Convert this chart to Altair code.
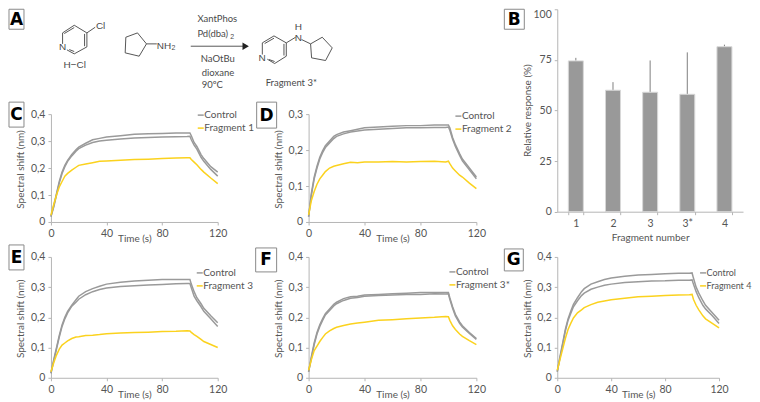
import altair as alt
import pandas as pd

FONT = "Lato"
TXT = "#555555"
AX = "#b5b5b5"
GREY = "#9a9a9a"
YEL = "#fbd21e"

times = [0, 2, 4, 6, 8, 10, 12, 15, 18, 20, 25, 30, 35, 40, 50, 60, 70, 80, 90, 98, 100, 101, 103, 105, 108, 110, 115, 120]

c_up = [.02, .06, .105, .15, .185, .21, .228, .25, .268, .278, .292, .305, .31, .315, .32, .325, .327, .328, .33, .33, .33, .32, .295, .28, .25, .235, .205, .185]
c_lo = [.02, .055, .10, .145, .18, .205, .225, .245, .262, .272, .285, .295, .30, .303, .308, .311, .313, .315, .316, .317, .318, .305, .285, .27, .24, .225, .195, .17]
c_fr = [.025, .065, .10, .13, .15, .17, .18, .192, .203, .21, .215, .22, .225, .226, .229, .232, .233, .235, .237, .238, .238, .232, .222, .212, .195, .185, .163, .142]

d_up = [.015, .08, .125, .155, .18, .198, .212, .225, .238, .243, .25, .254, .258, .262, .264, .266, .268, .268, .27, .27, .27, .262, .235, .215, .19, .175, .15, .125]
d_lo = [.015, .075, .12, .15, .175, .193, .207, .22, .232, .238, .245, .25, .253, .256, .258, .26, .262, .262, .263, .263, .264, .255, .23, .21, .185, .17, .145, .12]
d_fr = [.02, .06, .085, .105, .12, .13, .14, .15, .155, .157, .162, .166, .165, .167, .167, .168, .167, .168, .169, .167, .169, .162, .15, .142, .13, .125, .108, .093]

e_up = [.015, .06, .10, .14, .175, .20, .22, .24, .258, .27, .285, .295, .303, .31, .316, .32, .323, .325, .325, .325, .325, .31, .285, .265, .245, .23, .205, .182]
e_lo = [.015, .055, .095, .135, .17, .195, .215, .237, .25, .26, .275, .285, .292, .297, .302, .305, .307, .309, .311, .312, .312, .298, .27, .255, .235, .22, .195, .17]
e_fr = [.02, .05, .075, .095, .108, .115, .122, .13, .135, .136, .14, .141, .143, .146, .148, .15, .151, .153, .154, .156, .155, .15, .143, .137, .127, .12, .11, .10]

f_up = [.02, .07, .115, .15, .175, .195, .212, .228, .243, .25, .262, .268, .27, .274, .276, .278, .28, .282, .282, .282, .282, .265, .235, .21, .185, .172, .15, .13]
f_lo = [.02, .065, .11, .145, .17, .19, .208, .223, .238, .245, .256, .263, .266, .27, .272, .274, .276, .276, .278, .277, .278, .26, .23, .205, .18, .168, .147, .127]
f_fr = [.025, .06, .09, .105, .12, .133, .145, .155, .163, .167, .173, .178, .181, .184, .19, .192, .195, .198, .2, .203, .202, .19, .172, .16, .145, .137, .123, .11]

g_up = [.02, .07, .115, .16, .195, .22, .243, .265, .285, .295, .31, .318, .325, .33, .336, .34, .342, .344, .346, .346, .347, .33, .30, .28, .255, .24, .215, .19]
g_lo = [.02, .065, .11, .155, .19, .213, .235, .255, .272, .28, .293, .30, .306, .31, .315, .318, .32, .321, .323, .323, .324, .31, .285, .265, .24, .228, .205, .18]
g_fr = [.025, .06, .095, .13, .16, .18, .198, .215, .225, .232, .242, .25, .254, .258, .263, .268, .27, .272, .274, .275, .276, .26, .24, .225, .205, .195, .18, .165]

frag_names = ["1", "2", "3", "3*", "4"]
frag_resp = [74.5, 60, 59, 58, 81.5]
frag_err = [1.5, 4, 15.7, 20.7, 1]

# Scheme in panel A (units: 1/3 px)
bond_x1 = [185, 220, 258, 258, 220, 185, 190, 251, 205, 258,
           375, 410, 437, 415, 373, 437,
           785, 820, 857, 857, 822, 785, 792, 850, 805, 857, 903,
           930, 965, 995, 975, 933, 570]
bond_y1 = [95, 72, 95, 137, 158, 128, 97, 98, 145, 95,
           108, 95, 128, 165, 155, 128,
           125, 104, 125, 165, 187, 160, 127, 128, 175, 125, 115,
           128, 108, 140, 178, 170, 135]
bond_x2 = [220, 258, 258, 220, 198, 185, 220, 251, 220, 283,
           410, 437, 415, 373, 375, 468,
           820, 857, 857, 822, 800, 785, 820, 850, 822, 885, 930,
           965, 995, 975, 933, 930, 730]
bond_y2 = [72, 95, 137, 158, 146, 95, 79, 135, 151, 78,
           95, 128, 165, 155, 108, 128,
           104, 125, 165, 187, 174, 125, 111, 163, 181, 108, 128,
           108, 140, 178, 170, 128, 135]

sch_text = ["Cl", "N", "H\u2212Cl", "NH", "2", "XantPhos", "Pd(dba)", "2", "NaOtBu", "dioxane", "90\u00baC", "N", "H", "N", "Fragment 3*"]
sch_x = [285, 185, 188, 468, 512, 590, 590, 689, 600, 603, 603, 784, 893, 893, 795]
sch_y = [73, 138, 190, 133, 140, 52, 97, 106, 173, 215, 253, 170, 76, 109, 245]
sch_size = [10, 10, 10, 10, 7, 9.5, 9.5, 7, 9.5, 9.5, 9.5, 10, 10, 10, 9.5]
sch_align = ["left", "center", "left", "left", "left", "left", "left", "left", "left", "left", "left", "center", "center", "center", "left"]


def one():
    return pd.DataFrame({"a": [1]})


def letter(s, x0, x1, y0, y1):
    box = alt.Chart(one()).mark_rect(fill="white", stroke="#8a8a8a", strokeWidth=1).encode(
        x=alt.value(x0), x2=alt.value(x1), y=alt.value(y0), y2=alt.value(y1))
    t = alt.Chart(one()).mark_text(text=s, font="DejaVu Sans", fontWeight="bold", fontSize=17,
                                   color="black", align="center", baseline="middle").encode(
        x=alt.value((x0 + x1) / 2), y=alt.value((y0 + y1) / 2 + 0.5))
    return [box, t]


def label(s, x, y, fs=10):
    return alt.Chart(one()).mark_text(text=s, font=FONT, fontSize=fs, color=TXT,
                                      align="left", baseline="middle").encode(
        x=alt.value(x), y=alt.value(y))


def dash(x0, x1, y, col):
    return alt.Chart(one()).mark_rule(color=col, strokeWidth=1.5).encode(
        x=alt.value(x0), x2=alt.value(x1), y=alt.value(y))


def panel(up, lo, fr, w, h, ymax, name, lx, ly, box, title_dy, cell_w=None, fs=10):
    rows = []
    for s, vals in (("Control A", up), ("Control B", lo), ("Fragment", fr)):
        rows += [{"t": t, "v": v, "s": s} for t, v in zip(times, vals)]
    df = pd.DataFrame(rows)
    ticks = [i / 10 for i in range(int(round(ymax * 10)) + 1)]
    line = alt.Chart(df).mark_line(strokeWidth=1.5, interpolate="linear").encode(
        x=alt.X("t:Q", scale=alt.Scale(domain=[0, 120], nice=False, range=[0, w]),
                axis=alt.Axis(values=[0, 40, 80, 120], title="Time (s)", grid=False, tickSize=3,
                              domainColor=AX, tickColor=AX, labelColor=TXT, labelFont=FONT, labelFontSize=10.5,
                              labelFlush=False, labelOverlap=False,
                              labelPadding=4, titleFont=FONT, titleFontSize=10, titleFontWeight="normal",
                              titleColor=TXT, titleX=w * 0.5, titleY=title_dy, titleAnchor="middle")),
        y=alt.Y("v:Q", scale=alt.Scale(domain=[0, ymax], nice=False),
                axis=alt.Axis(values=ticks, title="Spectral shift (nm)", grid=False, tickSize=3,
                              domainColor=AX, tickColor=AX, labelColor=TXT, labelFont=FONT, labelFontSize=10.5,
                              labelFlush=False, labelOverlap=False,
                              labelExpr="datum.value == 0 ? '0' : replace(format(datum.value, '.1f'), '.', ',')",
                              labelPadding=3, titleFont=FONT, titleFontSize=10, titleFontWeight="normal",
                              titleColor=TXT, titleX=-25, titleY=h / 2 + 1)),
        color=alt.Color("s:N", scale=alt.Scale(domain=["Control A", "Control B", "Fragment"],
                                               range=[GREY, GREY, YEL]), legend=None),
        detail="s:N", order="t:Q")
    parts = [line,
             dash(lx - 6, lx, ly, GREY), dash(lx - 6, lx, ly + 13, YEL),
             label("Control", lx + 0.5, ly, fs), label(name, lx + 0.5, ly + 13, fs)]
    parts += letter(*box)
    return alt.layer(*parts).properties(width=cell_w or w, height=h)


# Panel A: drawn across the cell, on a scale of one third of a pixel per unit
bonds = pd.DataFrame({"x1": bond_x1, "y1": bond_y1, "x2": bond_x2, "y2": bond_y2})
sx = alt.Scale(domain=[150, 1500], range=[0, 450], nice=False)
sy = alt.Scale(domain=[24, 324], range=[0, 100], nice=False)
bond_layer = alt.Chart(bonds).mark_rule(color="#444444", strokeWidth=0.9).encode(
    x=alt.X("x1:Q", scale=sx, axis=None), y=alt.Y("y1:Q", scale=sy, axis=None),
    x2="x2:Q", y2="y2:Q")
arrow = alt.Chart(pd.DataFrame({"x": [735], "y": [135]})).mark_point(
    shape="triangle-right", filled=True, size=55, color="#222222", opacity=1).encode(
    x=alt.X("x:Q", scale=sx, axis=None), y=alt.Y("y:Q", scale=sy, axis=None))
sch = pd.DataFrame({"t": sch_text, "x": sch_x, "y": sch_y, "fs": sch_size, "al": sch_align})
text_layers = []
for al, g in sch.groupby("al"):
    for fs, gg in g.groupby("fs"):
        text_layers.append(alt.Chart(gg).mark_text(
            font=FONT if fs == 9.5 else "Liberation Sans", fontSize=float(fs), color="#4a4a4a",
            align=al, baseline="middle").encode(
            x=alt.X("x:Q", scale=sx, axis=None), y=alt.Y("y:Q", scale=sy, axis=None), text="t:N"))
pa = alt.layer(bond_layer, arrow, *text_layers, *letter("A", -42, -27, 0, 20)).properties(width=167, height=70)

# Panel B
BH = 202.7
bdf = pd.DataFrame({"f": frag_names, "v": frag_resp, "e": [a + b for a, b in zip(frag_resp, frag_err)]})
bx = alt.X("f:N", sort=frag_names, scale=alt.Scale(paddingInner=0.6, paddingOuter=0.3),
           axis=alt.Axis(title="Fragment number", labelAngle=0, tickBand="extent", tickSize=3, grid=False,
                         offset=BH - 70,
                         domainColor=AX, tickColor=AX, labelColor=TXT, labelFont=FONT, labelFontSize=10.5,
                         labelPadding=4, titleFont=FONT, titleFontSize=10, titleFontWeight="normal",
                         titleColor=TXT, titlePadding=3))
by = alt.Y("v:Q", scale=alt.Scale(domain=[0, 100], nice=False, range=[BH, 0]),
           axis=alt.Axis(values=[0, 25, 50, 75, 100], title="Relative response (%)", grid=False, tickSize=3,
                         domainColor=AX, tickColor=AX, labelColor=TXT, labelFont=FONT, labelFontSize=10.5,
                         labelFlush=False, labelOverlap=False,
                         labelBaseline=alt.expr("datum.value == 100 ? 'top' : 'middle'"),
                         labelPadding=3, titleFont=FONT, titleFontSize=10, titleFontWeight="normal",
                         titleColor=TXT, titleX=-25, titleY=101))
pb = alt.layer(
    alt.Chart(bdf).mark_rule(color="#808080", strokeWidth=1).encode(x=bx, y=by, y2="e:Q"),
    alt.Chart(bdf).mark_bar(size=15, color="#999999", stroke="#d8d8d8", strokeWidth=1).encode(x=bx, y=by),
    *letter("B", -53, -33, 0, 20),
).properties(width=186, height=70)

pc = panel(c_up, c_lo, c_fr, 167, 108, .4, "Fragment 1", 153, 1, ("C", -42, -27, -12, 13), 12)
pd_ = panel(d_up, d_lo, d_fr, 168, 108, .3, "Fragment 2", 153, 2, ("D", -52, -32, -12, 14), 12, cell_w=158)
pe = panel(e_up, e_lo, e_fr, 167, 121, .4, "Fragment 3", 152, 16, ("E", -42, -27, -12, 13), 12)
pf = panel(f_up, f_lo, f_fr, 168, 121, .4, "Fragment 3*", 147, 15, ("F", -53, -32, -9, 15), 12, cell_w=158)
pg = panel(g_up, g_lo, g_fr, 162, 121, .4, "Fragment 4", 149, 16, ("G", -53, -34, -8, 14), 12, fs=9)


def blank(w, h):
    return alt.Chart(one()).mark_text(text=" ").encode(x=alt.value(5), y=alt.value(20)).properties(width=w, height=h)


chart = alt.concat(
    pa, blank(158, 70), pb,
    pc, pd_, blank(186, 108),
    pe, pf, pg,
    columns=3, spacing={"row": 35, "column": 91},
    bounds="flush",
).properties(padding=0).configure_view(stroke=None)

chart.save("out.html", embed_options={"renderer": "svg", "actions": False})
